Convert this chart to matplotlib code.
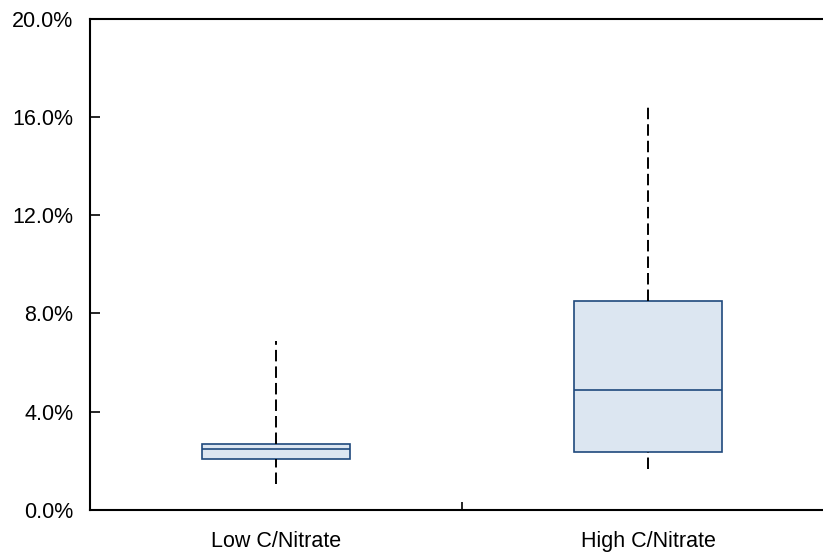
import matplotlib
matplotlib.use("Agg")
import matplotlib.pyplot as plt
from matplotlib.ticker import FuncFormatter, FixedLocator

plt.rcParams['font.family'] = ['Liberation Sans', 'DejaVu Sans']

categories = ["Low C/Nitrate", "High C/Nitrate"]
whislo = [1.06, 1.68]
q1 = [2.08, 2.37]
med = [2.47, 4.87]
q3 = [2.69, 8.50]
whishi = [6.88, 16.55]
yticks = [0, 4, 8, 12, 16, 20]

fig = plt.figure(figsize=(8.23, 5.55), dpi=100)
ax = fig.add_axes([90/823, 1-510/555, 744/823, (510-18.5)/555])

stats = []
for i, c in enumerate(categories):
    stats.append(dict(label=c, whislo=whislo[i], q1=q1[i], med=med[i],
                      q3=q3[i], whishi=whishi[i], fliers=[]))

res = ax.bxp(stats, positions=[1, 2], widths=0.4, patch_artist=True, showcaps=False,
             boxprops=dict(facecolor='#DCE6F1', edgecolor='#1F497D', linewidth=1.2),
             medianprops=dict(color='#1F497D', linewidth=1.2),
             whiskerprops=dict(color='black', linewidth=1.4, linestyle=(0, (5.9, 2.6))))

# lower whiskers: start dash pattern at the minimum
for j, w in enumerate(res['whiskers']):
    if j % 2 == 0:
        x, y = w.get_data()
        w.set_data(list(x)[::-1], list(y)[::-1])

ax.set_xlim(0.5, 2.5)
ax.set_ylim(0, 20)
ax.set_yticks(yticks)
ax.yaxis.set_major_formatter(FuncFormatter(lambda v, p: f"{v:.1f}%"))
ax.set_xticks([1, 2])
ax.set_xticklabels(categories)
ax.tick_params(axis='x', length=0, labelsize=15.5, pad=15)
ax.xaxis.set_minor_locator(FixedLocator([1.5]))
ax.tick_params(axis='x', which='minor', direction='in', length=6, width=1.2)
ax.tick_params(axis='y', direction='in', length=7, width=1.2, labelsize=15.5, pad=12)

for s in ['left', 'bottom', 'top', 'right']:
    ax.spines[s].set_linewidth(1.5)
    ax.spines[s].set_color('black')

fig.savefig("out.png", dpi=100)
